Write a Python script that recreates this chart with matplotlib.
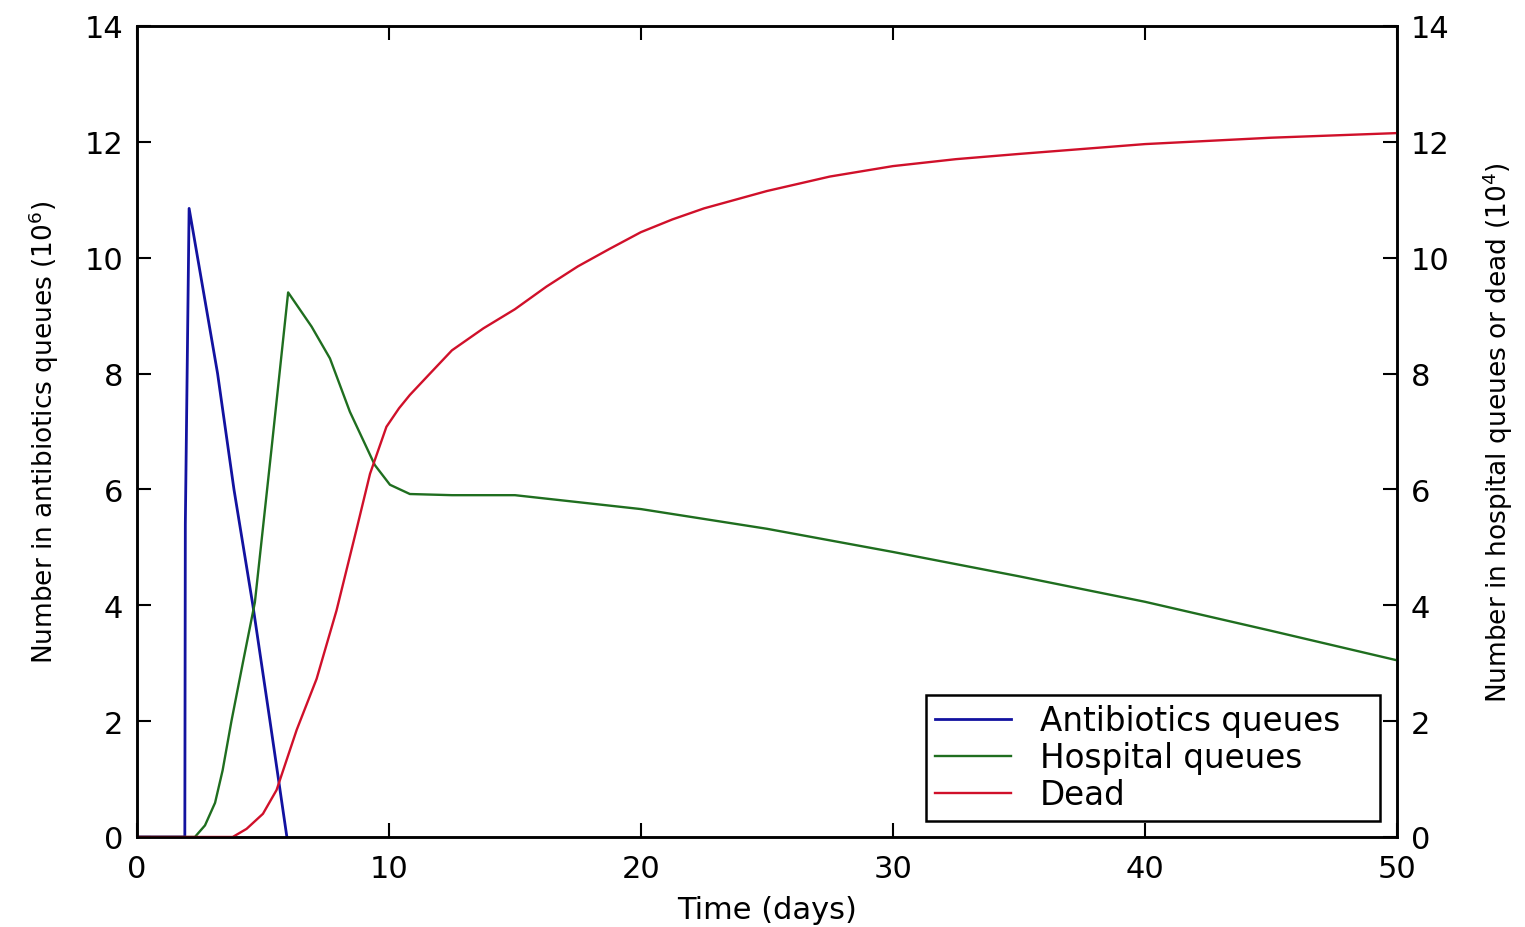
import matplotlib
matplotlib.use('Agg')
import matplotlib.pyplot as plt

# data
abx_t = [0, 1.9, 1.92, 2.07, 3.2, 3.85, 4.6, 5.28, 5.95]
abx_n = [0, 0, 5.4, 10.85, 8.0, 6.0, 4.0, 2.0, 0.0]

hosp_t = [0, 2.3, 2.7, 3.1, 3.4, 3.75, 4.2, 4.68, 5.34, 6.0,
          6.93, 7.66, 8.45, 9.44, 10.04, 10.83, 12.5, 15, 20, 25, 30, 35, 40, 45, 50]
hosp_n = [0, 0, 0.2, 0.59, 1.15, 2.0, 3.0, 4.05, 6.7, 9.4,
          8.81, 8.26, 7.34, 6.42, 6.08, 5.92, 5.9, 5.9, 5.66, 5.32, 4.92, 4.5, 4.06, 3.56, 3.05]

dead_t = [0, 3.8, 4.35, 5.0, 5.54, 6.34, 7.13, 7.92, 8.72, 9.25, 9.9, 10.4, 10.83, 11.63,
          12.5, 13.75, 15, 16.25, 17.5, 18.75, 20, 21.25, 22.5, 25, 27.5, 30, 32.5,
          35, 40, 45, 50]
dead_n = [0, 0, 0.14, 0.4, 0.81, 1.85, 2.73, 3.91, 5.32, 6.27, 7.08, 7.4, 7.63, 8.0,
          8.4, 8.78, 9.11, 9.5, 9.85, 10.15, 10.44, 10.66, 10.85, 11.15, 11.4, 11.58, 11.7,
          11.79, 11.96, 12.07, 12.15]

ticks_x = [0, 10, 20, 30, 40, 50]
ticks_y = [0, 2, 4, 6, 8, 10, 12, 14]

plt.rcParams['font.family'] = ['DejaVu Sans']

fig = plt.figure(figsize=(15.25, 9.28), dpi=100)
ax = fig.add_axes([0.0898, 0.097, 0.8262, 0.874])
ax2 = ax.twinx()

l1, = ax.plot(abx_t, abx_n, color='#1212a0', lw=2.0)
l2, = ax2.plot(hosp_t, hosp_n, color='#1f6e1f', lw=1.7)
l3, = ax2.plot(dead_t, dead_n, color='#d0102a', lw=1.7)

for a in (ax, ax2):
    a.set_xlim(0, 50)
    a.set_ylim(0, 14)
    a.set_yticks(ticks_y)
    for s in a.spines.values():
        s.set_linewidth(1.8)
ax.set_xticks(ticks_x)
ax.tick_params(axis='both', direction='in', length=10, width=1.5, labelsize=22,
               top=True, pad=10)
ax.tick_params(axis='x', pad=12)
ax2.tick_params(axis='y', direction='in', length=10, width=1.5, labelsize=22, pad=10)

ax.set_xlabel('Time (days)', fontsize=22, labelpad=9)
ax.set_ylabel('Number in antibiotics queues (10$^6$)', fontsize=19, labelpad=17)
ax2.set_ylabel('Number in hospital queues or dead (10$^4$)', fontsize=19, labelpad=22)

# legend box spans the same area as in the picture
leg = ax2.legend([l1, l2, l3], ['Antibiotics queues', 'Hospital queues', 'Dead'],
                 loc='lower left', bbox_to_anchor=(0.626, 0.0197, 0.3605, 0.1566),
                 mode='expand', fontsize=23.5,
                 fancybox=False, framealpha=1, edgecolor='black',
                 handlelength=2.3, handletextpad=0.9, borderpad=0.3,
                 labelspacing=0.12, borderaxespad=0)
leg.get_frame().set_linewidth(1.8)

fig.savefig('out.png', dpi=100)
